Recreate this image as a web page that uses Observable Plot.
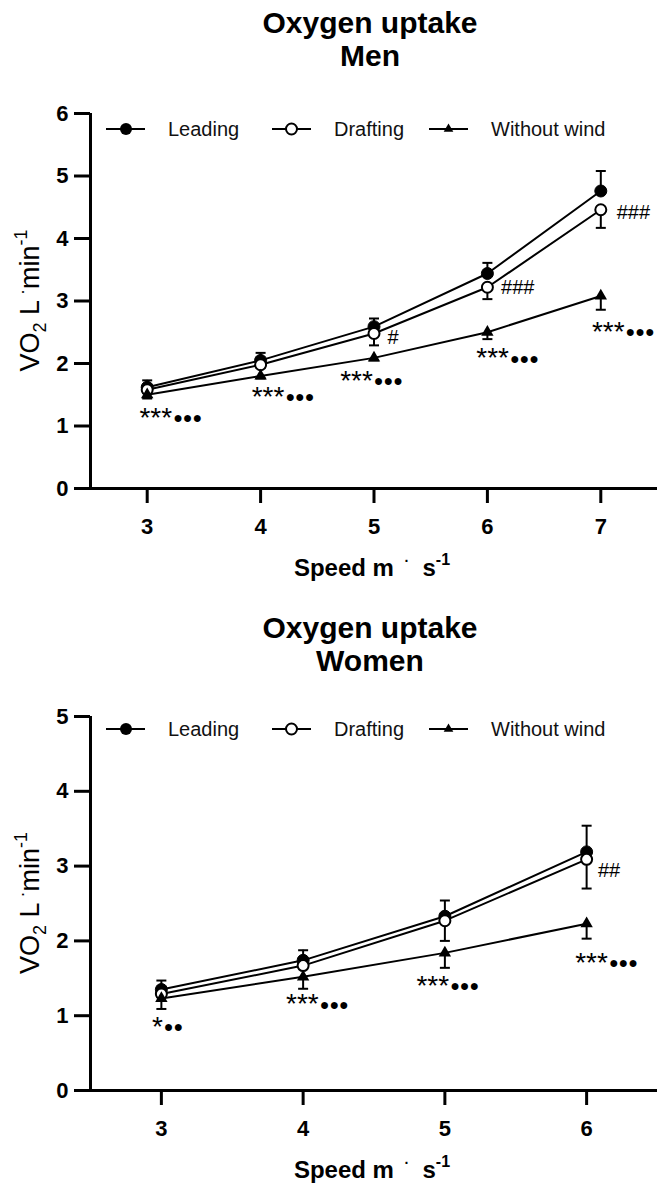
<!DOCTYPE html>
<html><head><meta charset="utf-8">
<script src="https://cdn.jsdelivr.net/npm/d3@7"></script>
<script src="https://cdn.jsdelivr.net/npm/@observablehq/plot@0.6"></script>
<style>
body{margin:0;background:#fff;overflow:hidden;}
#page{position:relative;width:662px;height:1187px;font-family:"Liberation Sans",Arial,sans-serif;color:#000;}
.title{position:absolute;left:70px;width:600px;text-align:center;font-weight:bold;font-size:30px;line-height:33px;}
.chart{position:absolute;left:0;}
</style></head>
<body><div id="page">
<div class="title" style="top:6px">Oxygen uptake<br>Men</div>
<div class="chart" id="men" style="top:90px"></div>
<div class="title" style="top:611px">Oxygen uptake<br>Women</div>
<div class="chart" id="women" style="top:690px"></div>
</div>
<script>
// ---------- data ----------
const seriesNames = ["Leading", "Drafting", "Without wind"];

const menSpeed = [3, 4, 5, 6, 7];
const menLeading = [1.62, 2.05, 2.59, 3.44, 4.76];
const menLeadingSD = [0.11, 0.12, 0.13, 0.17, 0.32];
const menDrafting = [1.58, 1.98, 2.48, 3.22, 4.46];
const menDraftingSD = [0.05, 0.05, 0.19, 0.19, 0.29];
const menWithout = [1.50, 1.80, 2.09, 2.50, 3.08];
const menWithoutSD = [0.06, 0.04, 0.04, 0.11, 0.22];
const menXTicks = [3, 4, 5, 6, 7];
const menYTicks = [0, 1, 2, 3, 4, 5, 6];

const menAnnotSpeed = [3.22, 4.21, 4.99, 6.19, 7.21];
const menAnnotLevel = [1.13, 1.47, 1.72, 2.08, 2.50];
const menAnnotStars = ["***", "***", "***", "***", "***"];
const menAnnotDots = ["●●●", "●●●", "●●●", "●●●", "●●●"];
const menHashSpeed = [5.12, 6.12, 7.14];
const menHashLevel = [2.42, 3.22, 4.42];
const menHashText = ["#", "###", "###"];

const womenSpeed = [3, 4, 5, 6];
const womenLeading = [1.35, 1.74, 2.33, 3.19];
const womenLeadingSD = [0.12, 0.135, 0.21, 0.35];
const womenDrafting = [1.29, 1.67, 2.27, 3.09];
const womenDraftingSD = [0.04, 0.04, 0.27, 0.39];
const womenWithout = [1.23, 1.52, 1.84, 2.23];
const womenWithoutSD = [0.14, 0.16, 0.20, 0.20];
const womenXTicks = [3, 4, 5, 6];
const womenYTicks = [0, 1, 2, 3, 4, 5];

const womenAnnotSpeed = [3.01, 4.11, 5.03, 6.15];
const womenAnnotLevel = [0.85, 1.15, 1.40, 1.70];
const womenAnnotStars = ["*", "***", "***", "***"];
const womenAnnotDots = ["●●", "●●●", "●●●", "●●●"];
const womenHashSpeed = [6.08];
const womenHashLevel = [2.94];
const womenHashText = ["##"];

// ---------- helpers ----------
const capSymbol = {
  draw(context, size) {
    const w = Math.sqrt(size / Math.PI);
    context.moveTo(-w, 0);
    context.lineTo(w, 0);
  }
};

function buildRows(speeds, vals, sds) {
  const dirs = [1, -1, -1];
  const rows = [];
  vals.forEach((v, k) => v.forEach((val, i) => rows.push({
    speed: speeds[i], value: val, sd: sds[k][i], name: seriesNames[k],
    end: val + dirs[k] * sds[k][i]
  })));
  return rows;
}

function zipTable(xs, ys, ts, us) {
  return xs.map((x, i) => ({x, y: ys[i], t: ts[i], u: us ? us[i] : null}));
}

function drawChart(el, cfg) {
  const rows = buildRows(cfg.speeds, cfg.vals, cfg.sds);
  const annots = zipTable(cfg.annotSpeed, cfg.annotLevel, cfg.annotStars, cfg.annotDots);
  const hashes = zipTable(cfg.hashSpeed, cfg.hashLevel, cfg.hashText);
  const svg = Plot.plot({
    width: 662,
    height: cfg.height,
    marginTop: cfg.marginTop,
    marginBottom: cfg.marginBottom,
    marginLeft: 90,
    marginRight: 5,
    style: {fontFamily: "'Liberation Sans', Arial, sans-serif", background: "white", color: "black", overflow: "visible"},
    x: {domain: cfg.xDomain},
    y: {domain: cfg.yDomain},
    marks: [
      Plot.axisX({ticks: cfg.xTicks, tickFormat: "d", tickSize: 15, tickPadding: 15, strokeWidth: 3, fontSize: 22, fontWeight: "bold", label: null}),
      Plot.axisY({ticks: cfg.yTicks, tickFormat: "d", tickSize: 16, tickPadding: 6, strokeWidth: 3, fontSize: 22, fontWeight: "bold", label: null}),
      Plot.ruleY([cfg.yDomain[0]], {stroke: "black", strokeWidth: 3}),
      Plot.ruleX([cfg.xDomain[0]], {stroke: "black", strokeWidth: 3}),
      Plot.line(rows, {x: "speed", y: "value", z: "name", stroke: "black", strokeWidth: 2}),
      Plot.ruleX(rows, {x: "speed", y1: "value", y2: "end", stroke: "black", strokeWidth: 2}),
      Plot.dot(rows, {x: "speed", y: "end", symbol: capSymbol, r: 5, stroke: "black", strokeWidth: 2, fill: "none"}),
      Plot.dot(rows.filter(d => d.name === "Leading"), {x: "speed", y: "value", r: 6, fill: "black", stroke: "black", strokeWidth: 1}),
      Plot.dot(rows.filter(d => d.name === "Drafting"), {x: "speed", y: "value", r: 5.5, fill: "white", stroke: "black", strokeWidth: 2}),
      Plot.dot(rows.filter(d => d.name === "Without wind"), {x: "speed", y: "value", symbol: "triangle", r: 4.6, fill: "black"}),
      Plot.text(annots, {x: "x", y: "y", text: "t", textAnchor: "end", fontSize: 28, fill: "black"}),
      Plot.text(annots, {x: "x", y: "y", text: "u", textAnchor: "start", fontSize: 16, fill: "black", dx: 1}),
      Plot.text(hashes, {x: "x", y: "y", text: "t", textAnchor: "start", fontSize: 20, fill: "black"})
    ]
  });

  const s = d3.select(svg);
  // y-axis title
  const yc = (cfg.marginTop + cfg.height - cfg.marginBottom) / 2;
  const yt = s.append("text")
    .attr("transform", `translate(39,${yc}) rotate(-90)`)
    .attr("text-anchor", "middle")
    .attr("font-size", 27)
    .attr("fill", "black");
  yt.append("tspan").text("VO");
  yt.append("tspan").attr("dy", 7).attr("font-size", 18).text("2");
  yt.append("tspan").attr("dy", -7).text(" L");
  yt.append("tspan").attr("dy", -11).attr("font-size", 18).text(" ·");
  yt.append("tspan").attr("dy", 11).text("min");
  yt.append("tspan").attr("dy", -12).attr("font-size", 18).text("-1");

  // x-axis title
  const xt = s.append("text")
    .attr("x", 372)
    .attr("y", cfg.height - cfg.marginBottom + 88)
    .attr("text-anchor", "middle")
    .attr("font-size", 24)
    .attr("font-weight", "bold")
    .attr("fill", "black");
  xt.append("tspan").text("Speed m ");
  xt.append("tspan").attr("dy", -10).attr("font-size", 14).text(" ·");
  xt.append("tspan").attr("dy", 10).text("  s");
  xt.append("tspan").attr("dy", -11).attr("font-size", 16).text("-1");

  // legend
  const lg = s.append("g").attr("transform", `translate(0,${cfg.legendY})`);
  const starts = [106, 272, 429];
  seriesNames.forEach((name, k) => {
    const x0 = starts[k];
    lg.append("line").attr("x1", x0).attr("x2", x0 + 39).attr("y1", 0).attr("y2", 0)
      .attr("stroke", "black").attr("stroke-width", 2);
    if (k === 0) {
      lg.append("circle").attr("cx", x0 + 20).attr("cy", 0).attr("r", 6).attr("fill", "black");
    } else if (k === 1) {
      lg.append("circle").attr("cx", x0 + 19.5).attr("cy", 0).attr("r", 5.5).attr("fill", "white")
        .attr("stroke", "black").attr("stroke-width", 2);
    } else {
      lg.append("path").attr("transform", `translate(${x0 + 19.5},0)`)
        .attr("d", d3.symbol(d3.symbolTriangle2, Math.PI * 4.6 * 4.6)()).attr("fill", "black");
    }
    lg.append("text").attr("x", x0 + 62).attr("y", 0).attr("dy", "0.35em")
      .attr("text-anchor", "start")
      .attr("font-size", 20).attr("fill", "#111").text(name);
  });

  el.appendChild(svg);
}

drawChart(document.getElementById("men"), {
  speeds: menSpeed,
  vals: [menLeading, menDrafting, menWithout],
  sds: [menLeadingSD, menDraftingSD, menWithoutSD],
  annotSpeed: menAnnotSpeed, annotLevel: menAnnotLevel, annotStars: menAnnotStars, annotDots: menAnnotDots,
  hashSpeed: menHashSpeed, hashLevel: menHashLevel, hashText: menHashText,
  xDomain: [2.5, 7.5], yDomain: [0, 6], xTicks: menXTicks, yTicks: menYTicks,
  height: 500, marginTop: 23, marginBottom: 102, legendY: 39
});

drawChart(document.getElementById("women"), {
  speeds: womenSpeed,
  vals: [womenLeading, womenDrafting, womenWithout],
  sds: [womenLeadingSD, womenDraftingSD, womenWithoutSD],
  annotSpeed: womenAnnotSpeed, annotLevel: womenAnnotLevel, annotStars: womenAnnotStars, annotDots: womenAnnotDots,
  hashSpeed: womenHashSpeed, hashLevel: womenHashLevel, hashText: womenHashText,
  xDomain: [2.5, 6.5], yDomain: [0, 5], xTicks: womenXTicks, yTicks: womenYTicks,
  height: 497, marginTop: 26, marginBottom: 97, legendY: 39
});
</script>
</body></html>
